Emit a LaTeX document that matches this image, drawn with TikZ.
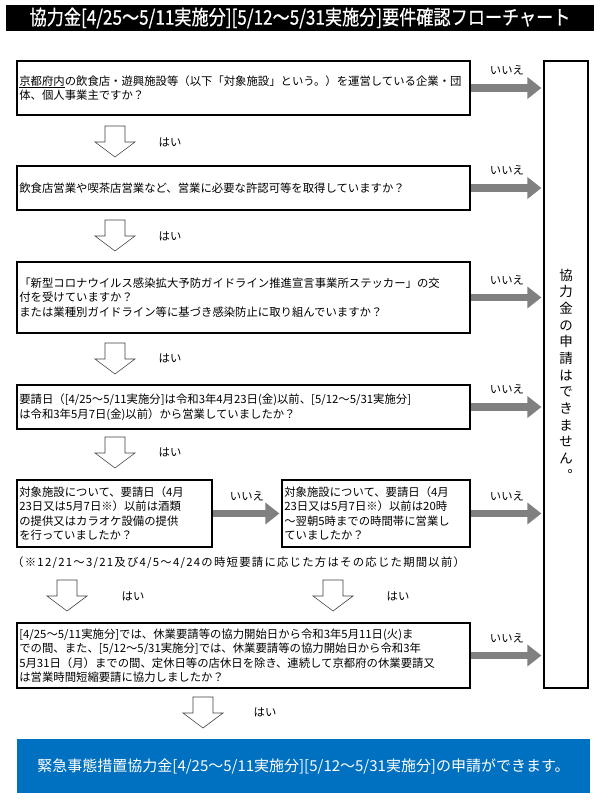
\documentclass[tikz,border=0pt]{standalone}
\usepackage{fontspec}
\setmainfont{Noto Sans CJK JP}
\newfontfamily\titlefont[FakeStretch=0.85, FakeBold=0.6]{Noto Sans CJK JP}
\newfontfamily\notefont[LetterSpace=11]{Noto Sans CJK JP}
\newsavebox\ulbox
\newcommand\ulword[1]{\leavevmode\sbox\ulbox{#1}\rlap{\rule[-2.4pt]{\wd\ulbox}{1.2pt}}\usebox\ulbox}
\usetikzlibrary{arrows.meta}
\definecolor{nogray}{RGB}{128,128,128}
\definecolor{okblue}{RGB}{0,112,192}
\tikzset{
  qbox/.style={draw, line width=1pt, fill=white, align=left, inner xsep=2pt, inner ysep=0pt,
    font=\fontsize{9.7}{12.4}\selectfont},
  widebox/.style={qbox, text width=13.45cm, minimum height=#1},
  noarrow/.style={draw=nogray, line width=6.8pt, shorten >=1.7pt,
    -{Triangle[length=12pt, width=18pt]}},
  nolabel/.style={midway, yshift=15pt, font=\fontsize{9.7}{12}\selectfont},
  yeslabel/.style={font=\fontsize{9.7}{12}\selectfont},
  yesarrow/.pic={\draw[line width=0.5pt, draw=black!75, fill=white]
    (-10,0) -- (10,0) -- (10,16) -- (20,16) -- (0,31) -- (-20,16) -- (-10,16) -- cycle;}
}
\begin{document}
\begin{tikzpicture}[x=0.03cm, y=-0.03cm]
\useasboundingbox (0,0) rectangle (608,800);
% title bar
\node[fill=black, text=white, inner sep=0pt, minimum width=17.64cm, minimum height=0.78cm,
  font=\titlefont\fontsize{17.2}{20}\selectfont] (title) at (300,18)
  {協力金[4/25～5/11実施分][5/12～5/31実施分]要件確認フローチャート};
% questions
\node[widebox=1.62cm] (q1) at (243.5,88)
  {\ulword{京都府内}の飲食店・遊興施設等（以下「対象施設」という。）を運営している企業・団\\体、個人事業主ですか？};
\node[widebox=1.32cm] (q2) at (243.5,188)
  {飲食店営業や喫茶店営業など、営業に必要な許認可等を取得していますか？};
\node[widebox=2.13cm] (q3) at (243.5,297.5)
  {「新型コロナウイルス感染拡大予防ガイドライン推進宣言事業所ステッカー」の交\\付を受けていますか？\\または業種別ガイドライン等に基づき感染防止に取り組んでいますか？};
\node[widebox=1.32cm] (q4) at (243.5,407)
  {要請日（[4/25～5/11実施分]は令和3年4月23日(金)以前、[5/12～5/31実施分]\\は令和3年5月7日(金)以前）から営業していましたか？};
\node[qbox, text width=5.71cm, minimum height=2.01cm] (q5a) at (114.5,513.5)
  {対象施設について、要請日（4月\\23日又は5月7日※）以前は酒類\\の提供又はカラオケ設備の提供\\を行っていましたか？};
\node[qbox, text width=5.50cm, minimum height=2.01cm] (q5b) at (376,513.5)
  {対象施設について、要請日（4月\\23日又は5月7日※）以前は20時\\～翌朝5時までの時間帯に営業し\\ていましたか？};
\node[anchor=west, inner sep=0pt, font=\notefont\fontsize{9.7}{12}\selectfont] (note) at (12,563)
  {（※12/21～3/21及び4/5～4/24の時短要請に応じた方はその応じた期間以前）};
\node[widebox=1.95cm] (q6) at (243.5,655.5)
  {[4/25～5/11実施分]では、休業要請等の協力開始日から令和3年5月11日(火)ま\\での間、また、[5/12～5/31実施分]では、休業要請等の協力開始日から令和3年\\5月31日（月）までの間、定休日等の店休日を除き、連続して京都府の休業要請又\\は営業時間短縮要請に協力しましたか？};
% results
\node[draw, line width=1pt, minimum width=1.32cm, minimum height=18.81cm, inner sep=0pt,
  align=center, font=\fontsize{11.5}{14.25}\selectfont] (no) at (566,374.5)
  {協\\力\\金\\の\\申\\請\\は\\で\\き\\ま\\せ\\ん\\︒};
\node[fill=okblue, text=white, inner sep=0pt, minimum width=17.19cm, minimum height=1.62cm,
  font=\fontsize{12.8}{15}\selectfont] (ok) at (303.5,766)
  {緊急事態措置協力金[4/25～5/11実施分][5/12～5/31実施分]の申請ができます。};
% no arrows
\draw[noarrow] (q1.east) -- (no.west |- q1.east) node[nolabel] (n1) {いいえ};
\draw[noarrow] (q2.east) -- (no.west |- q2.east) node[nolabel] (n2) {いいえ};
\draw[noarrow] (q3.east) -- (no.west |- q3.east) node[nolabel] (n3) {いいえ};
\draw[noarrow] (q4.east) -- (no.west |- q4.east) node[nolabel] (n4) {いいえ};
\draw[noarrow] (q5a.east) -- (q5b.west) node[nolabel] (n5) {いいえ};
\draw[noarrow] (q5b.east) -- (no.west |- q5b.east) node[nolabel] (n6) {いいえ};
\draw[noarrow] (q6.east) -- (no.west |- q6.east) node[nolabel] (n7) {いいえ};
% yes arrows
\pic (a1) at (115,126) {yesarrow};
\pic (a2) at (115,220) {yesarrow};
\pic (a3) at (115,343) {yesarrow};
\pic (a4) at (115,437) {yesarrow};
\pic (a5) at (67,580) {yesarrow};
\pic (a6) at (333,580) {yesarrow};
\pic (a7) at (203,697) {yesarrow};
\node[yeslabel] (y1) at (170,142) {はい};
\node[yeslabel] (y2) at (170,236) {はい};
\node[yeslabel] (y3) at (170,358) {はい};
\node[yeslabel] (y4) at (170,452) {はい};
\node[yeslabel] (y5) at (133,596) {はい};
\node[yeslabel] (y6) at (398,596) {はい};
\node[yeslabel] (y7) at (265,712) {はい};
\end{tikzpicture}
\end{document}
